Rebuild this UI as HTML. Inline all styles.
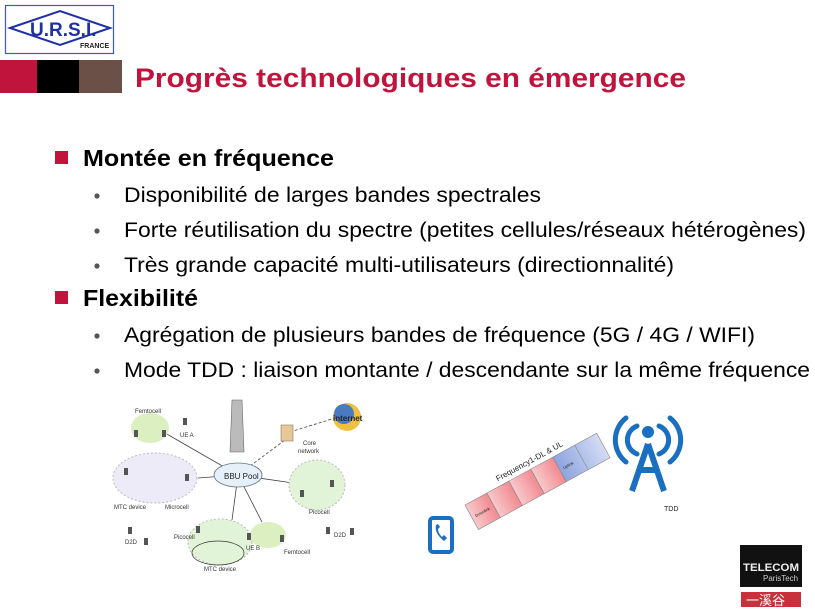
<!DOCTYPE html>
<html><head><meta charset="utf-8"><style>
html,body{margin:0;padding:0;background:#fff;}
svg{display:block;font-family:"Liberation Sans",sans-serif;}
</style></head><body>
<svg width="815" height="615" viewBox="0 0 815 615">
<defs>
<linearGradient id="rg" x1="0" x2="1" y1="0" y2="0"><stop offset="0" stop-color="#f7c9cc"/><stop offset="1" stop-color="#f28a90"/></linearGradient>
<linearGradient id="bg" x1="0" x2="1"><stop offset="0" stop-color="#8ea4e0"/><stop offset="1" stop-color="#d4dcf4"/></linearGradient>
</defs>
<rect x="5.5" y="5.5" width="108" height="48" fill="#fff" stroke="#3a5bd0" stroke-width="1.2"/>
<polygon points="10,28 60,11 110,28 60,45" fill="none" stroke="#1f2fa8" stroke-width="2"/>
<text x="30" y="36" font-size="19" font-weight="bold" fill="#1f2fa8">U.R.S.I.</text>
<text x="80" y="48" font-size="7" font-weight="bold" fill="#222">FRANCE</text>
<rect x="0" y="60" width="37" height="33" fill="#c0143c"/>
<rect x="37" y="60" width="42" height="33" fill="#000"/>
<rect x="79" y="60" width="43" height="33" fill="#6b5048"/>
<text x="135" y="87" font-size="27" font-weight="bold" fill="#c0143c" textLength="551" lengthAdjust="spacingAndGlyphs">Progrès technologiques en émergence</text>
<rect x="55" y="151" width="13" height="13" fill="#c0143c"/>
<text x="83" y="166" font-size="23" font-weight="bold" textLength="251" lengthAdjust="spacingAndGlyphs">Montée en fréquence</text>
<g font-size="21" fill="#000">
<circle cx="97" cy="196" r="2.6" fill="#555"/>
<text x="124" y="202" textLength="417" lengthAdjust="spacingAndGlyphs">Disponibilité de larges bandes spectrales</text>
<circle cx="97" cy="231" r="2.6" fill="#555"/>
<text x="124" y="237" textLength="682" lengthAdjust="spacingAndGlyphs">Forte réutilisation du spectre (petites cellules/réseaux hétérogènes)</text>
<circle cx="97" cy="266" r="2.6" fill="#555"/>
<text x="124" y="272" textLength="550" lengthAdjust="spacingAndGlyphs">Très grande capacité multi-utilisateurs (directionnalité)</text>
</g>
<rect x="55" y="291" width="13" height="13" fill="#c0143c"/>
<text x="83" y="306" font-size="23" font-weight="bold" textLength="115" lengthAdjust="spacingAndGlyphs">Flexibilité</text>
<g font-size="21">
<circle cx="97" cy="336" r="2.6" fill="#555"/>
<text x="124" y="342" textLength="631" lengthAdjust="spacingAndGlyphs">Agrégation de plusieurs bandes de fréquence (5G / 4G / WIFI)</text>
<circle cx="97" cy="371" r="2.6" fill="#555"/>
<text x="124" y="377" textLength="686" lengthAdjust="spacingAndGlyphs">Mode TDD : liaison montante / descendante sur la même fréquence</text>
</g>
<g stroke="#444" stroke-width="0.8">
<line x1="238" y1="475" x2="165" y2="433"/>
<line x1="238" y1="475" x2="198" y2="478"/>
<line x1="238" y1="475" x2="300" y2="484"/>
<line x1="238" y1="475" x2="285" y2="440" stroke-dasharray="3,2"/>
<line x1="290" y1="432" x2="335" y2="418" stroke-dasharray="3,2"/>
<line x1="238" y1="475" x2="232" y2="520"/>
<line x1="238" y1="475" x2="262" y2="522"/>
</g>
<ellipse cx="150" cy="428" rx="19" ry="15" fill="#dcefc0"/>
<ellipse cx="155" cy="478" rx="42" ry="25" fill="#ecebf7" stroke="#bbb" stroke-dasharray="2,2"/>
<ellipse cx="317" cy="485" rx="28" ry="25" fill="#e2f4d8" stroke="#bbb" stroke-dasharray="2,2"/>
<ellipse cx="220" cy="542" rx="32" ry="23" fill="#e2f4d8" stroke="#bbb" stroke-dasharray="2,2"/>
<ellipse cx="268" cy="535" rx="18" ry="13" fill="#dcefc0"/>
<ellipse cx="218" cy="553" rx="26" ry="12" fill="none" stroke="#333" stroke-width="0.7"/>
<polygon points="232,400 242,400 244,452 230,452" fill="#bbb" stroke="#666" stroke-width="0.6"/>
<ellipse cx="238" cy="475" rx="24" ry="12" fill="#e6f0f8" stroke="#678" stroke-width="0.8"/>
<text x="224" y="479" font-size="8" fill="#222">BBU Pool</text>
<rect x="281" y="425" width="12" height="16" fill="#e8c896" stroke="#876" stroke-width="0.6"/>
<circle cx="347" cy="417" r="14" fill="#f0c040"/><circle cx="344" cy="414" r="10" fill="#4a7ac0"/>
<text x="333" y="421" font-size="8" font-weight="bold" fill="#222">internet</text>
<g font-size="6" fill="#333">
<text x="135" y="413">Femtocell</text><text x="180" y="437">UE A</text>
<text x="303" y="445">Core</text><text x="298" y="453">network</text>
<text x="114" y="509">MTC device</text><text x="165" y="509">Microcell</text>
<text x="309" y="514">Picocell</text><text x="125" y="544">D2D</text><text x="334" y="537">D2D</text>
<text x="174" y="539">Picocell</text><text x="246" y="550">UE B</text><text x="284" y="554">Femtocell</text>
<text x="204" y="571">MTC device</text>
</g>
<g fill="#555">
<rect x="134" y="430" width="4" height="7"/><rect x="162" y="430" width="4" height="7"/><rect x="183" y="418" width="4" height="7"/>
<rect x="124" y="468" width="4" height="7"/><rect x="185" y="474" width="4" height="7"/><rect x="128" y="527" width="4" height="7"/><rect x="144" y="538" width="4" height="7"/>
<rect x="300" y="490" width="4" height="7"/><rect x="330" y="480" width="4" height="7"/><rect x="326" y="527" width="4" height="7"/><rect x="350" y="528" width="4" height="7"/>
<rect x="196" y="526" width="4" height="7"/><rect x="247" y="533" width="4" height="7"/><rect x="280" y="535" width="4" height="7"/>
</g>
<g transform="translate(465,505) rotate(-28.6)">
<rect x="0" y="0" width="25" height="28" fill="url(#rg)" stroke="#888" stroke-width="0.6"/>
<rect x="25" y="0" width="25" height="28" fill="url(#rg)" stroke="#888" stroke-width="0.6"/>
<rect x="50" y="0" width="25" height="28" fill="url(#rg)" stroke="#888" stroke-width="0.6"/>
<rect x="75" y="0" width="25" height="28" fill="url(#rg)" stroke="#888" stroke-width="0.6"/>
<rect x="100" y="0" width="50" height="28" fill="url(#bg)" stroke="#888" stroke-width="0.6"/>
<line x1="125" y1="0" x2="125" y2="28" stroke="#888" stroke-width="0.6"/>
<text x="40" y="-5" font-size="8" fill="#222">Frequency1-DL &amp; UL</text>
<text x="4" y="16" font-size="4" fill="#222">Downlink</text>
<text x="104" y="16" font-size="4" fill="#222">Uplink</text>
</g>
<g fill="none" stroke="#1a6fc0" stroke-width="5" stroke-linecap="round">
<path d="M626 418 A28 28 0 0 0 626 462"/><path d="M670 418 A28 28 0 0 1 670 462"/>
<path d="M637 426 A15 15 0 0 0 637 454"/><path d="M659 426 A15 15 0 0 1 659 454"/>
</g>
<circle cx="648" cy="432" r="6" fill="#1a6fc0"/>
<path d="M648 444 L632 491 M648 444 L664 491 M639 470 L657 470" stroke="#1a6fc0" stroke-width="6" fill="none"/>
<text x="664" y="511" font-size="7" fill="#222">TDD</text>
<rect x="430" y="518" width="22" height="34" rx="3" fill="none" stroke="#1a6fc0" stroke-width="4"/>
<path d="M436 525 q-2 8 8 16 l3 -3 l-3 -3 l-2 2 q-4 -4 -4 -8 l2 -2 l-2 -3 z" fill="#1a6fc0"/>
<rect x="740" y="545" width="62" height="42" fill="#111"/>
<text x="743" y="571" font-size="11" font-weight="bold" fill="#eee" textLength="56" lengthAdjust="spacingAndGlyphs">TELECOM</text>
<text x="763" y="581" font-size="8" fill="#ccc">ParisTech</text>
<rect x="741" y="592" width="60" height="15" fill="#c8303c"/>
<text x="746" y="605" font-size="13" fill="#fff" font-family="Noto Sans CJK SC,sans-serif">一溪谷</text>
</svg>
</body></html>
